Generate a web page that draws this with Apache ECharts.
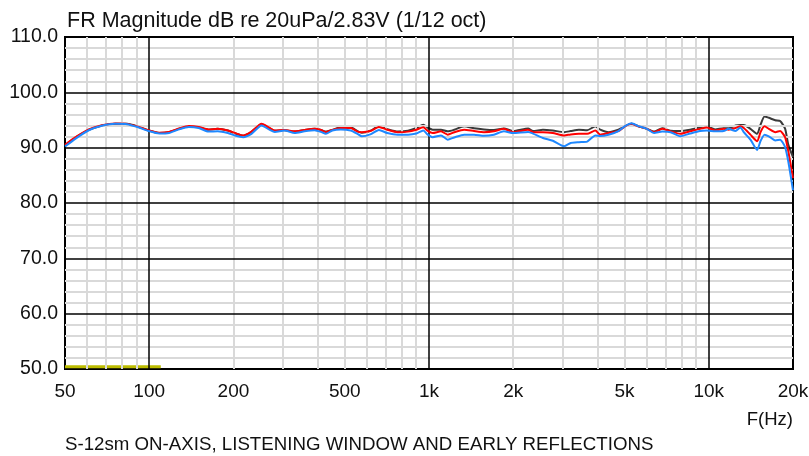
<!DOCTYPE html>
<html><head><meta charset="utf-8">
<script src="https://cdn.jsdelivr.net/npm/echarts@6/dist/echarts.min.js"></script>
<style>html,body{margin:0;padding:0;background:#fff}#c{width:809px;height:456px}</style>
</head><body><div id="c"></div>
<script>
// ---- data ----
const freqs = [50,54.4,60.8,67.8,75.7,83.4,91.8,99.5,108.7,117.6,127.6,138.5,150.3,163,175.6,191,202.6,216.7,232,252,270,281,305,331,359,390,411,428,451,484,525,555,575,617,662,709,773,842,901,954,990,1031,1104,1166,1231,1335,1449,1572,1706,1852,2000,2261,2354,2553,2771,3042,3209,3436,3675,3932,4094,4383,4752,5020,5300,5600,5980,6376,6820,7300,7900,8580,9300,9840,10540,11300,11780,12460,12980,13340,14090,14890,15310,15820,16390,17290,17990,18740,19240,20000];
const onAxis = [90.4,91.8,93.2,94.0,94.3,94.3,93.75,93.1,92.65,92.8,93.4,93.85,93.7,93.25,93.4,93.1,92.6,92.15,92.85,94.25,93.5,93.05,93.15,92.9,93.2,93.4,93.2,92.9,93.2,93.7,93.7,93.0,92.7,93.05,93.85,93.35,92.9,93.05,93.55,94.15,93.6,93.25,93.25,92.95,93.25,93.85,93.5,93.3,93.2,93.45,93.0,93.45,93.0,93.25,93.1,92.8,93.0,93.25,93.15,93.85,93.25,92.8,93.25,93.85,94.3,93.85,93.45,92.9,93.5,93.05,93.0,93.25,93.65,93.85,93.3,93.5,93.5,94.0,94.1,94.1,93.4,92.5,94.15,95.65,95.4,94.95,94.8,93.45,90.55,88.3];
const listeningWindow = [90.5,91.85,93.3,94.05,94.35,94.3,93.75,93.15,92.7,92.85,93.45,93.9,93.75,93.3,93.4,93.1,92.65,92.2,92.9,94.3,93.55,93.1,93.2,92.95,93.2,93.4,93.2,92.8,93.2,93.55,93.55,92.9,92.8,93.0,93.75,93.25,92.8,92.9,93.25,93.7,93.05,92.65,92.95,92.35,92.8,93.25,93.0,92.8,92.95,93.4,92.8,93.25,92.8,92.8,92.65,92.2,92.4,92.5,92.5,93.1,92.35,92.65,93.0,93.85,94.3,93.85,93.45,92.8,93.4,92.95,92.5,92.95,93.4,93.65,93.1,93.4,93.25,93.55,93.85,93.55,92.35,91.15,92.8,93.85,93.4,92.8,93.0,91.9,89.35,84.5];
const earlyReflections = [90.2,91.6,93.15,93.95,94.3,94.25,93.65,93.0,92.55,92.65,93.3,93.75,93.55,92.9,92.95,92.65,92.2,91.9,92.5,94.0,93.2,92.85,93.1,92.65,92.95,93.15,92.85,92.5,93.1,93.3,93.1,92.5,92.05,92.4,93.2,92.65,92.35,92.35,92.55,93.1,92.35,91.9,92.2,91.45,91.85,92.35,92.35,92.15,92.35,92.95,92.65,92.85,92.55,91.75,91.25,90.25,90.85,91.0,91.1,92.2,92.1,92.35,93.0,93.9,94.4,93.9,93.45,92.65,92.9,92.8,92.05,92.55,93.0,93.1,92.95,93.0,93.4,93.0,93.65,92.8,91.45,89.6,91.2,92.35,92.05,91.3,91.45,90.1,87.5,82.3];
const markerFreqs = [50, 110];
const markerLevels = [50.4, 50.4];
const xTickValues = [50,100,200,500,1000,2000,5000,10000,20000];
const xTickLabels = ['50','100','200','500','1k','2k','5k','10k','20k'];
const majorFreqs = [100,1000,10000];
const minorFreqs = [60,70,80,90,200,300,400,500,600,700,800,900,2000,3000,4000,5000,6000,7000,8000,9000];
const yMin = 50, yMax = 110, yMajorStep = 10, yMinorStep = 2;
const titleText = 'FR Magnitude dB re 20uPa/2.83V (1/12 oct)';
const captionText = 'S-12sm ON-AXIS, LISTENING WINDOW AND EARLY REFLECTIONS';
const xUnitText = 'F(Hz)';
// ------------------------------------
const FONT = '"Liberation Sans", Arial, sans-serif';
const minorH = [], majorH = [];
for (let v = yMin + yMinorStep; v < yMax; v += yMinorStep) { if (v % yMajorStep) minorH.push(v); else majorH.push(v); }
const zip = (xs, ys) => xs.map((x, i) => [x, ys[i]]);
const chart = echarts.init(document.getElementById('c'), null, {renderer: 'canvas'});
const mlBase = {silent: true, symbol: 'none', animation: false, label: {show: false}};
chart.setOption({
  animation: false,
  backgroundColor: '#fff',
  title: {text: titleText, left: 62, top: 5, textStyle: {fontFamily: FONT, fontSize: 21.5, fontWeight: 'normal', color: '#111'}},
  grid: {left: 65, right: 16, top: 37, bottom: 87, show: true, borderColor: '#000', borderWidth: 2, backgroundColor: 'transparent'},
  xAxis: {type: 'log', logBase: 10, min: 50, max: 20000,
    axisLine: {show: false}, axisTick: {show: false}, axisLabel: {show: false}, splitLine: {show: false}},
  yAxis: {type: 'value', min: yMin, max: yMax, interval: yMajorStep,
    axisLine: {show: false}, axisTick: {show: false}, splitLine: {show: false},
    axisLabel: {formatter: v => v.toFixed(1), fontFamily: FONT, fontSize: 19.5, color: '#111', margin: 7}},
  series: [
    {type: 'line', data: [], z: 1, markLine: Object.assign({}, mlBase, {
      lineStyle: {color: '#d9d9d9', width: 2, type: 'solid'},
      data: minorFreqs.map(f => ({xAxis: f})).concat(minorH.map(v => ({yAxis: v})))})},
    {type: 'line', data: [], z: 2, markLine: Object.assign({}, mlBase, {
      lineStyle: {color: '#000', width: 1.5, type: 'solid'},
      data: majorFreqs.map(f => ({xAxis: f})).concat(majorH.map(v => ({yAxis: v})))})},
    {name: 'marker', type: 'line', data: zip(markerFreqs, markerLevels), showSymbol: false, z: 3,
      lineStyle: {color: '#bcbc00', width: 3}},
    {name: 'On-axis', type: 'line', data: zip(freqs, onAxis), showSymbol: false, smooth: 0.2, z: 4,
      lineStyle: {color: '#3a3a3a', width: 2}},
    {name: 'Listening window', type: 'line', data: zip(freqs, listeningWindow), showSymbol: false, smooth: 0.2, z: 5,
      lineStyle: {color: '#ff0000', width: 2}},
    {name: 'Early reflections', type: 'line', data: zip(freqs, earlyReflections), showSymbol: false, smooth: 0.2, z: 6,
      lineStyle: {color: '#1e88ff', width: 2}}
  ]
});
const yBottom = chart.convertToPixel({yAxisIndex: 0}, yMin);
const gfx = xTickValues.map((v, i) => ({
  type: 'text', x: chart.convertToPixel({xAxisIndex: 0}, v), y: yBottom + 23,
  style: {text: xTickLabels[i], font: '19px ' + FONT, fill: '#111', textAlign: 'center', textVerticalAlign: 'middle'}
}));
const xRight = chart.convertToPixel({xAxisIndex: 0}, 20000);
gfx.push({type: 'text', x: xRight, y: yBottom + 51, style: {text: xUnitText, font: '18.5px ' + FONT, fill: '#111', textAlign: 'right', textVerticalAlign: 'middle'}});
gfx.push({type: 'text', x: 65, y: yBottom + 76, style: {text: captionText, font: '18.7px ' + FONT, fill: '#111', textAlign: 'left', textVerticalAlign: 'middle'}});
chart.setOption({graphic: gfx});
</script></body></html>
